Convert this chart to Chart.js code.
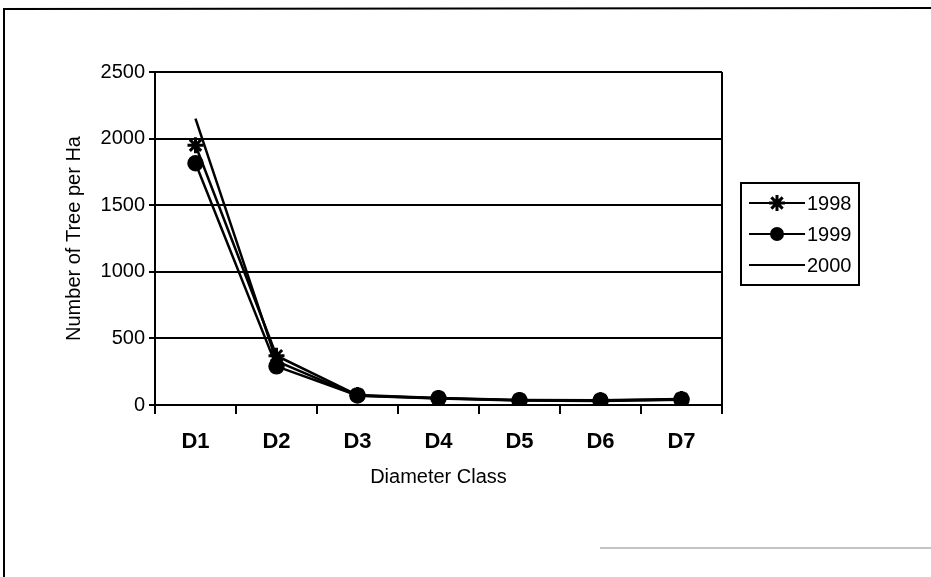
<!DOCTYPE html>
<html>
<head>
<meta charset="utf-8">
<script src="https://cdn.jsdelivr.net/npm/chart.js@4.4.1/dist/chart.umd.min.js"></script>
<style>
  html, body { margin: 0; padding: 0; background: #fff; }
  #wrap { width: 931px; height: 577px; }
</style>
</head>
<body>
<div id="wrap"><canvas id="treeChart" width="931" height="577"></canvas></div>
<script>
const classes = ['D1', 'D2', 'D3', 'D4', 'D5', 'D6', 'D7'];
const trees1998 = [1950, 370, 75, 52, 37, 35, 45];
const trees1999 = [1815, 290, 72, 50, 35, 33, 42];
const trees2000 = [2150, 330, 70, 48, 33, 30, 40];
const yTicks = [0, 500, 1000, 1500, 2000, 2500];

const FONT = 'Arial, "Liberation Sans", sans-serif';

// frame, right border of plot and the boxed legend
const extras = {
  id: 'extras',
  beforeDraw(chart) {
    const c = chart.ctx;
    c.save();
    c.strokeStyle = '#000';
    c.lineWidth = 2;
    c.beginPath();
    c.moveTo(4, 577);
    c.lineTo(4, 9);
    c.lineTo(931, 8);
    c.stroke();
    c.strokeStyle = '#888';
    c.lineWidth = 1;
    c.beginPath();
    c.moveTo(600, 548);
    c.lineTo(931, 548);
    c.stroke();
    c.restore();
  },
  afterDraw(chart) {
    const c = chart.ctx;
    const a = chart.chartArea;
    c.save();
    c.strokeStyle = '#000';
    c.lineWidth = 2;
    c.beginPath();
    c.moveTo(a.right, a.top);
    c.lineTo(a.right, a.bottom);
    c.stroke();

    // legend
    const lx = 741, ly = 183, lw = 118, lh = 102;
    c.lineWidth = 2;
    c.strokeRect(lx, ly, lw, lh);
    c.font = '20px ' + FONT;
    c.fillStyle = '#000';
    c.textBaseline = 'middle';
    chart.data.datasets.forEach((ds, i) => {
      const y = ly + 20 + i * 31;
      c.lineWidth = 2;
      c.beginPath();
      c.moveTo(lx + 8, y);
      c.lineTo(lx + 64, y);
      c.stroke();
      if (ds.pointStyle === 'star') {
        const r = 8;
        c.lineWidth = 3;
        c.beginPath();
        for (let k = 0; k < 4; k++) {
          const ang = k * Math.PI / 4;
          c.moveTo(lx + 36 - r * Math.cos(ang), y - r * Math.sin(ang));
          c.lineTo(lx + 36 + r * Math.cos(ang), y + r * Math.sin(ang));
        }
        c.stroke();
      } else if (ds.pointRadius > 0) {
        c.beginPath();
        c.arc(lx + 36, y, 7, 0, Math.PI * 2);
        c.fill();
      }
      c.fillText(ds.label, lx + 66, y + 1);
    });
    c.restore();
  }
};

new Chart(document.getElementById('treeChart').getContext('2d'), {
  type: 'line',
  data: {
    labels: classes,
    datasets: [
      {
        label: '1998',
        data: trees1998,
        borderColor: '#000',
        backgroundColor: '#000',
        borderWidth: 2.5,
        pointStyle: 'star',
        pointRadius: 8,
        pointBorderWidth: 3,
        tension: 0
      },
      {
        label: '1999',
        data: trees1999,
        borderColor: '#000',
        backgroundColor: '#000',
        borderWidth: 2.5,
        pointStyle: 'circle',
        pointRadius: 7,
        tension: 0
      },
      {
        label: '2000',
        data: trees2000,
        borderColor: '#000',
        backgroundColor: '#000',
        borderWidth: 2.5,
        pointRadius: 0,
        tension: 0
      }
    ]
  },
  options: {
    responsive: false,
    animation: false,
    events: [],
    layout: { padding: { left: 62, right: 209, top: 72, bottom: 88 } },
    plugins: { legend: { display: false }, tooltip: { enabled: false } },
    scales: {
      x: {
        offset: true,
        afterFit(scale) { scale.height = 84; },
        grid: {
          offset: true,
          drawOnChartArea: false,
          drawTicks: true,
          tickLength: 9,
          color: '#000',
          lineWidth: 2
        },
        border: { color: '#000', width: 2 },
        ticks: {
          color: '#000',
          padding: 15,
          font: { family: FONT, size: 22, weight: 'bold' }
        },
        title: {
          display: true,
          text: 'Diameter Class',
          color: '#000',
          padding: { top: 4, bottom: 0 },
          font: { family: FONT, size: 20 }
        }
      },
      y: {
        min: 0,
        max: 2500,
        afterFit(scale) { scale.width = 93; },
        afterBuildTicks(scale) { scale.ticks = yTicks.map(v => ({ value: v })); },
        grid: {
          color: '#000',
          lineWidth: 2,
          tickLength: 6
        },
        border: { color: '#000', width: 2 },
        ticks: {
          color: '#000',
          padding: 4,
          font: { family: FONT, size: 20 },
          callback: v => String(v)
        },
        title: {
          display: true,
          text: 'Number of Tree per Ha',
          color: '#000',
          padding: { top: 0, bottom: 6 },
          font: { family: FONT, size: 20 }
        }
      }
    }
  },
  plugins: [extras]
});
</script>
</body>
</html>
